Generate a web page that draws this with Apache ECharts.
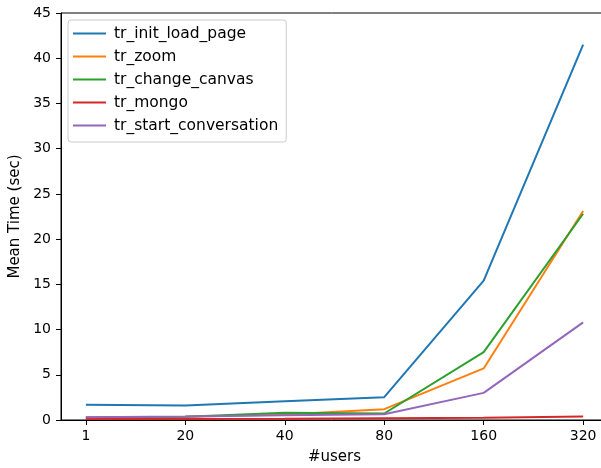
<!DOCTYPE html>
<html>
<head>
<meta charset="utf-8">
<script src="https://cdn.jsdelivr.net/npm/echarts@6/dist/echarts.min.js"></script>
<style>
  html, body { margin: 0; padding: 0; background: #fff; }
  #chart { width: 601px; height: 468px; }
</style>
</head>
<body>
<div id="chart"></div>
<script>
// x categories (#users)
var users = ['1', '20', '40', '80', '160', '320'];
// mean time in seconds
var initLoadPage = [1.68, 1.6, 2.08, 2.52, 15.4, 41.5];
var zoomTimes = [0.3, 0.35, 0.6, 1.2, 5.7, 23.1];
var changeCanvas = [0.25, 0.35, 0.8, 0.72, 7.5, 22.8];
var mongo = [0.1, 0.12, 0.15, 0.2, 0.25, 0.4];
var startConversation = [0.3, 0.4, 0.53, 0.64, 3.0, 10.8];
var yTicks = [0, 5, 10, 15, 20, 25, 30, 35, 40, 45];

var seriesNames = ['tr_init_load_page', 'tr_zoom', 'tr_change_canvas', 'tr_mongo', 'tr_start_conversation'];
var seriesData = [initLoadPage, zoomTimes, changeCanvas, mongo, startConversation];
var colors = ['#1f77b4', '#ff7f0e', '#2ca02c', '#d62728', '#9467bd'];
var font = 'DejaVu Sans';

function toPairs(arr) {
  return arr.map(function (v, i) {
    return [i, v];
  });
}

var chart = echarts.init(document.getElementById('chart'), null, { renderer: 'canvas' });

var option = {
  backgroundColor: '#fff',
  animation: false,
  color: colors,
  grid: {
    left: 61,
    top: 13,
    width: 547,
    height: 407,
    outerBoundsMode: 'none',
    containLabel: false,
    show: true,
    borderColor: '#000',
    borderWidth: 1,
    backgroundColor: 'transparent'
  },
  legend: {
    orient: 'vertical',
    left: 68,
    top: 20,
    padding: [5, 8, 8, 5],
    itemGap: 6,
    itemWidth: 33,
    itemHeight: 2,
    icon: 'rect',
    backgroundColor: 'rgba(255,255,255,0.8)',
    borderColor: '#cccccc',
    borderWidth: 1,
    borderRadius: 3,
    textStyle: { fontFamily: font, fontSize: 15.5, color: '#000', lineHeight: 17, padding: [0, 0, 0, 3] },
    data: seriesNames
  },
  xAxis: {
    type: 'value',
    min: -0.25,
    max: 5.25,
    name: '#users',
    nameLocation: 'middle',
    nameGap: 30,
    nameTextStyle: { fontFamily: font, fontSize: 15, color: '#000' },
    axisLine: { show: true, onZero: false, lineStyle: { color: '#000', width: 1 } },
    axisTick: { show: true, length: 5, lineStyle: { color: '#000' }, customValues: [0, 1, 2, 3, 4, 5] },
    axisLabel: {
      fontFamily: font, fontSize: 14, color: '#000', margin: 9,
      customValues: [0, 1, 2, 3, 4, 5],
      formatter: function (v) { return users[Math.round(v)]; }
    },
    splitLine: { show: false }
  },
  yAxis: {
    type: 'value',
    min: 0,
    max: 45,
    interval: 5,
    name: 'Mean Time (sec)',
    nameLocation: 'middle',
    nameRotate: 90,
    nameGap: 33,
    nameTextStyle: { fontFamily: font, fontSize: 15, color: '#000' },
    axisLine: { show: true, onZero: false, lineStyle: { color: '#000', width: 1 } },
    axisTick: { show: true, length: 5, lineStyle: { color: '#000' } },
    axisLabel: {
      fontFamily: font, fontSize: 14, color: '#000', margin: 10,
      formatter: function (v) { return yTicks.indexOf(v) >= 0 ? String(v) : ''; }
    },
    splitLine: { show: false }
  },
  series: seriesNames.map(function (name, i) {
    return {
      name: name,
      type: 'line',
      data: toPairs(seriesData[i]),
      showSymbol: false,
      symbol: 'none',
      lineStyle: { width: 2, color: colors[i] },
      itemStyle: { color: colors[i] }
    };
  })
};

chart.setOption(option);
</script>
</body>
</html>
